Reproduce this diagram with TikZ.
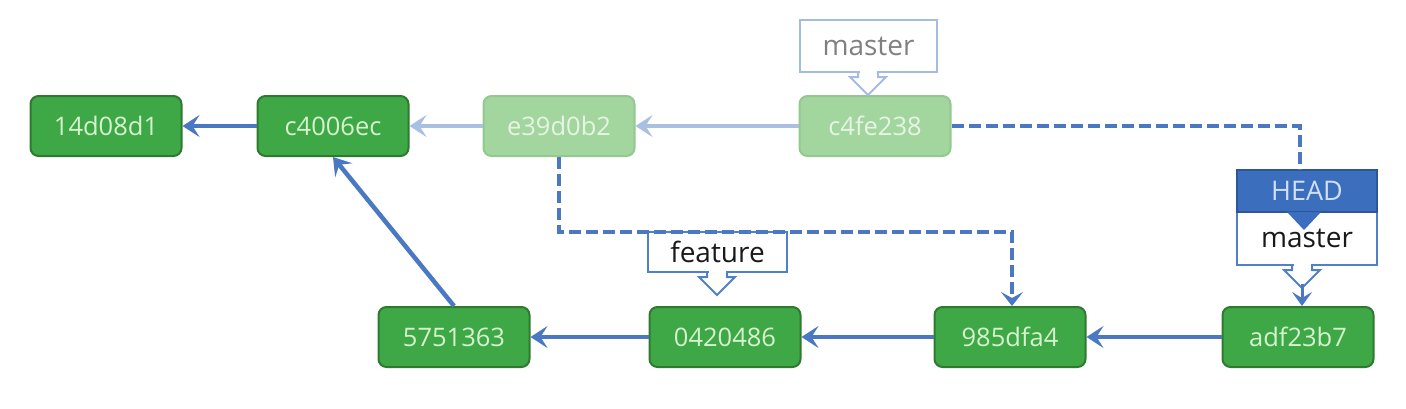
\documentclass[tikz,border=0pt]{standalone}
\usepackage{fontspec}
\setmainfont{Open Sans}
\usetikzlibrary{arrows.meta,calc}
\definecolor{gfill}{HTML}{3DA845}
\definecolor{gdraw}{HTML}{2F7A30}
\definecolor{gtext}{HTML}{D6F2CF}
\definecolor{lgfill}{HTML}{A3D59F}
\definecolor{lgdraw}{HTML}{93C88F}
\definecolor{lgtext}{HTML}{E6F5E3}
\definecolor{ablue}{HTML}{4A78C2}
\definecolor{lblue}{HTML}{A9C0E2}
\definecolor{hfill}{HTML}{3C6EBE}
\definecolor{hdraw}{HTML}{2B5699}
\definecolor{htext}{HTML}{CFE0F5}
\definecolor{cdraw}{HTML}{5080C8}
\definecolor{lcdraw}{HTML}{A3BCE3}
\tikzset{
  commit/.style={draw=gdraw, fill=gfill, text=gtext, line width=2pt, rounded corners=8pt,
    minimum width=151pt, minimum height=60pt, inner sep=0pt, font=\fontsize{25.5}{30}\selectfont},
  oldcommit/.style={commit, draw=lgdraw, fill=lgfill, text=lgtext},
  arr/.style={draw=ablue, line width=4.5pt, -{Stealth[length=17pt,width=22pt,inset=7pt]}},
  larr/.style={arr, draw=lblue},
  dashline/.style={draw=ablue, line width=4pt, dash pattern=on 12pt off 5pt},
  label/.style={draw=cdraw, line width=2pt, text=black!90, inner sep=0pt, font=\fontsize{28}{30}\selectfont},
  ptrline/.style={draw=cdraw, line width=2pt, line join=miter},
}
\newcommand\ptr[2]{%
  \draw[white, line width=3pt] ($(#1)+(-8.5,0)$) -- ($(#1)+(8.5,0)$);
  \draw[#2] ($(#1)+(-10,-1)$) -- ++(0,6) -- ++(-8,0) -- ++(18,18) -- ++(18,-18) -- ++(-8,0) -- ++(0,-6);}
\begin{document}
\begin{tikzpicture}[x=1pt,y=-1pt]
\useasboundingbox (0,0) rectangle (1406,408);
% commits
\node[commit] (c14) at (106,126) {14d08d1};
\node[commit] (c400) at (333,126) {c4006ec};
\node[oldcommit] (ce39) at (559,126) {e39d0b2};
\node[oldcommit] (cc4f) at (875,126) {c4fe238};
\node[commit] (c575) at (454,337) {5751363};
\node[commit] (c042) at (725,337) {0420486};
\node[commit] (c985) at (1010,337) {985dfa4};
\node[commit] (cadf) at (1298,337) {adf23b7};
% parent arrows
\draw[arr] (c400) -- (c14);
\draw[larr] (ce39) -- (c400);
\draw[larr] (cc4f) -- (ce39);
\draw[arr] (c575.north) -- (c400.south);
\draw[arr] (c042) -- (c575);
\draw[arr] (c985) -- (c042);
\draw[arr] (cadf) -- (c985);
% labels
\node[label, draw=lcdraw, text=black!50, minimum width=137pt, minimum height=52pt] (mold) at (868.5,46) {master};
\coordinate (pm) at (868,72);
\ptr{pm}{ptrline, draw=lcdraw}
\node[label, minimum width=139pt, minimum height=40pt] (feat) at (717.5,252) {feature};
\coordinate (pf) at (717,272);
\ptr{pf}{ptrline}
\node[label, minimum width=140pt, minimum height=53pt] (mnew) at (1307,238.5) {master};
\coordinate (pn) at (1302,265);
\ptr{pn}{ptrline}
\node[draw=hdraw, fill=hfill, text=htext, line width=2pt, minimum width=140pt, minimum height=42pt,
  inner sep=0pt, font=\fontsize{27}{30}\selectfont] (head) at (1307,191) {HEAD};
\fill[hfill] ($(head.south)+(-20,-1)$) -- ($(head.south)+(14,-1)$) -- ($(head.south)+(-3,17)$) -- cycle;
\coordinate (hp) at (1302,284);
\draw[draw=ablue, line width=3pt, -{Stealth[length=14pt,width=20pt,inset=6pt]}] (hp) -- (hp |- cadf.north);
% dashed connectors
\coordinate (hd) at (1300,126);
\draw[dashline] (cc4f.east) -- (hd) -- (hd |- head.north);
\coordinate (fd) at (1012,232);
\draw[dashline, -{Stealth[length=14pt,width=22pt,inset=6pt]}] (ce39.south) |- (fd) -- (fd |- c985.north);
\end{tikzpicture}
\end{document}
